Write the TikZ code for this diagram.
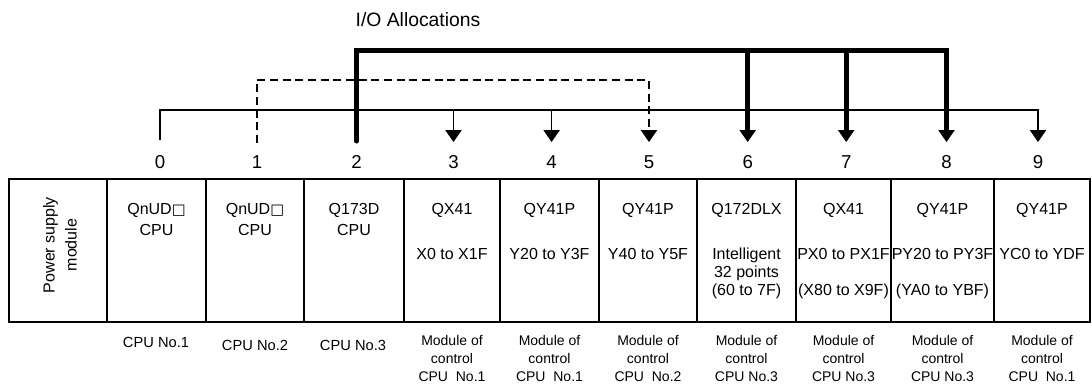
\documentclass[tikz,border=0pt]{standalone}
\usepackage{fontspec}
\setmainfont{Liberation Sans}
\newfontfamily\symfnt{DejaVu Sans}
\newcommand{\wsq}{{\symfnt\fontsize{11}{14}\selectfont □}}
\usetikzlibrary{arrows.meta,fit}
\begin{document}
\begin{tikzpicture}[x=0.75pt,y=-0.75pt,
  cell/.style={draw, line width=1.1pt, inner sep=0pt},
  modtxt/.style={font=\fontsize{12}{14}\selectfont, anchor=base, inner sep=0pt},
  numtxt/.style={font=\fontsize{14}{16}\selectfont, anchor=base, inner sep=0pt},
  cpulbl/.style={font=\fontsize{11}{13}\selectfont, anchor=base, inner sep=0pt},
  ctllbl/.style={font=\fontsize{10.5}{12}\selectfont, anchor=base, inner sep=0pt},
  thinbus/.style={line width=1pt},
  thickbus/.style={line width=3.75pt},
  dashbus/.style={line width=1.5pt, dash pattern=on 6pt off 3.5pt},
  tip/.style={-{Triangle[width=12.5pt,length=9pt,line width=0pt]}}
]
\useasboundingbox (0,0) rectangle (1092,383);

% title
\node[anchor=base, inner sep=0pt, font=\fontsize{14.5}{17}\selectfont] (title) at (418,26.7) {I/O Allocations};

% cells
\foreach \i/\a/\b in {0/8.8/107,1/107/206,2/206/304,3/304/404,4/404/500,5/500/599,6/599/697,7/697/796,8/796/891,9/891/994,10/994/1090}
  \node[cell, fit={(\a,179) (\b,322)}] (c\i) {};

% numbers and tip coordinates
\foreach \i/\x in {0/160,1/257,2/356.5,3/453.5,4/551.6,5/649,6/747.7,7/846.2,8/946.5,9/1038} {
  \node[numtxt] (n\i) at (\x,168.3) {\i};
  \coordinate (t\i) at (\x,142);
}
\coordinate (e0) at (160,140);
\coordinate (e1) at (257,143);
\coordinate (e2) at (356.5,141);

% thin bus
\coordinate (h0) at (160,110);
\coordinate (h3) at (453.5,110);
\coordinate (h4) at (551.6,110);
\coordinate (h9) at (1038,110);
\draw[thinbus, tip] (e0) -- (h0) -- (h9) -- (t9);
\draw[thinbus, tip] (h3) -- (t3);
\draw[thinbus, tip] (h4) -- (t4);

% dashed bus
\coordinate (d1) at (257,80);
\coordinate (d5) at (649,80);
\draw[dashbus, tip] (e1) -- (d1) -- (d5) -- (t5);

% thick bus
\coordinate (k2) at (356.5,50.5);
\coordinate (k6) at (747.7,50.5);
\coordinate (k7) at (846.2,50.5);
\coordinate (k8) at (946.5,50.5);
\draw[thickbus, tip, line cap=round] (e2) -- (k2) -- (k8) -- (t8);
\draw[thickbus, tip] (k6) -- (t6);
\draw[thickbus, tip] (k7) -- (t7);

% cell texts
\node[rotate=90, align=center, inner sep=0pt, font=\fontsize{12}{16.5}\selectfont] (ps) at (60,245) {Power supply\\module};

\node[modtxt] (m1a) at (156.5,214) {QnUD\wsq};
\node[modtxt] (m1b) at (156.5,235) {CPU};
\node[modtxt] (m2a) at (255,214) {QnUD\wsq};
\node[modtxt] (m2b) at (255,235) {CPU};
\node[modtxt] (m3a) at (354,214) {Q173D};
\node[modtxt] (m3b) at (354,235) {CPU};
\node[modtxt] (m4a) at (452,214) {QX41};
\node[modtxt] (m4b) at (452,259) {X0 to X1F};
\node[modtxt] (m5a) at (549.5,214) {QY41P};
\node[modtxt] (m5b) at (549.5,259) {Y20 to Y3F};
\node[modtxt] (m6a) at (648,214) {QY41P};
\node[modtxt] (m6b) at (648,259) {Y40 to Y5F};
\node[modtxt] (m7a) at (746.5,214) {Q172DLX};
\node[modtxt] (m7b) at (746.5,259) {Intelligent};
\node[modtxt] (m7c) at (746.5,277) {32 points};
\node[modtxt] (m7d) at (746.5,295) {(60 to 7F)};
\node[modtxt] (m8a) at (843.5,214) {QX41};
\node[modtxt] (m8b) at (843.5,259) {PX0 to PX1F};
\node[modtxt] (m8d) at (843.5,295) {(X80 to X9F)};
\node[modtxt] (m9a) at (942.5,214) {QY41P};
\node[modtxt] (m9b) at (942.5,259) {PY20 to PY3F};
\node[modtxt] (m9d) at (942.5,295) {(YA0 to YBF)};
\node[modtxt] (m10a) at (1042,214) {QY41P};
\node[modtxt] (m10b) at (1042,259) {YC0 to YDF};

% bottom labels
\node[cpulbl] (l1) at (156,347) {CPU No.1};
\node[cpulbl] (l2) at (255,350) {CPU No.2};
\node[cpulbl] (l3) at (353,350) {CPU No.3};
\foreach \i/\x/\t in {4/452/{CPU\ \ No.1},5/549.5/{CPU\ \ No.1},6/648/{CPU\ \ No.2},7/746.5/{CPU No.3},8/843.5/{CPU No.3},9/942.5/{CPU No.3},10/1042/{CPU\ \ No.1}} {
  \node[ctllbl] (la\i) at (\x,345) {Module of};
  \node[ctllbl] (lb\i) at (\x,363) {control};
  \node[ctllbl] (lc\i) at (\x,381) {\t};
}
\end{tikzpicture}
\end{document}
